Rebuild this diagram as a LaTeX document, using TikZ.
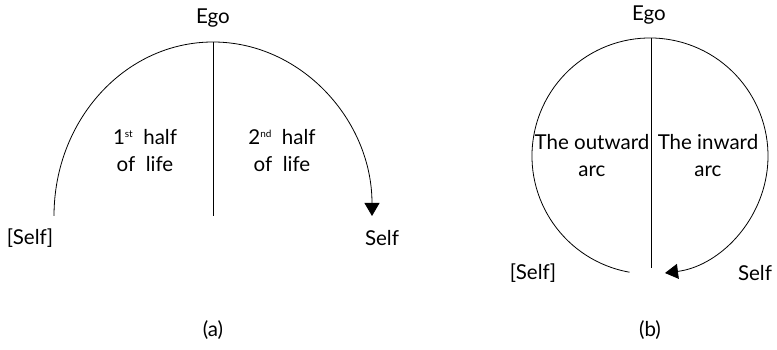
\documentclass[tikz,border=0pt]{standalone}
\usepackage{fontspec}
\setmainfont{Lato}
\usetikzlibrary{arrows.meta}
\newcommand{\ordsup}[1]{\raisebox{0.75ex}{\fontsize{10}{10}\selectfont #1}}
\begin{document}
\begin{tikzpicture}[x=1pt,y=1pt,line width=0.8pt,
    lbl/.style={font=\fontsize{20.5}{27}\selectfont,align=center,inner sep=1pt},
    tip/.style={-{Triangle[length=13pt,width=15pt]}}]
            \useasboundingbox (0,0) rectangle (777,350);
            % (a) half arc
            \coordinate (atop) at (213,308);
            \coordinate (abot) at (213,134);
            \draw (atop) -- (abot);
            \draw[tip] (54,134) arc[start angle=180,end angle=0,x radius=159,y radius=174];
            \node[lbl] (egoa) at (213,332) {Ego};
            \node[lbl] (selfal) at (30,112) {[Self]};
            \node[lbl] (selfar) at (382,112) {Self};
            \node[lbl] (firsthalf) at (145,199) {1\ordsup{st}\ \ half\\of\ \ life};
            \node[lbl] (secondhalf) at (282,199) {2\ordsup{nd}\ \ half\\of\ \ life};
            \node[lbl] (capa) at (213,20) {(a)};
            % (b) full circle
            \coordinate (btop) at (651,312);
            \coordinate (bbot) at (651,82);
            \draw (btop) -- (bbot);
            \draw[tip] (629.5,77.8) arc[start angle=260,end angle=-82.7,radius=118];
            \node[lbl] (egob) at (649,335) {Ego};
            \node[lbl] (selfbl) at (533,77) {[Self]};
            \node[lbl] (selfbr) at (755,77) {Self};
            \node[lbl] (outward) at (592,194.5) {The outward\\arc};
            \node[lbl] (inward) at (708,194.5) {The inward\\arc};
            \node[lbl] (capb) at (650,20) {(b)};
        \end{tikzpicture}
\end{document}
